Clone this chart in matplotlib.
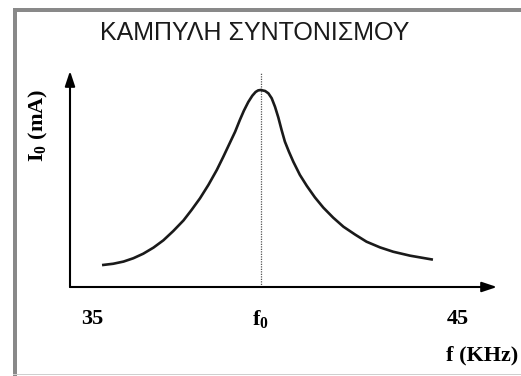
import matplotlib
matplotlib.use("Agg")

import matplotlib.pyplot as plt
import matplotlib.patches as patches

# ===== resonance curve data (f in kHz, I in mA) =====
FREQ = [35.31, 35.58, 35.86, 36.13, 36.40, 36.68, 36.95, 37.22, 37.50, 37.72,
        37.95, 38.18, 38.41, 38.59, 38.77, 38.91, 39.04, 39.15, 39.27, 39.38,
        39.47, 39.54, 39.61, 39.73, 39.82, 39.91, 40.00, 40.09, 40.18, 40.27,
        40.38, 40.50, 40.68, 40.87, 41.09, 41.32, 41.59, 41.87, 42.19, 42.50,
        42.87, 43.23, 43.69, 44.28]
CURRENT = [1.12, 1.18, 1.29, 1.46, 1.69, 2.00, 2.37, 2.84, 3.38, 3.91,
           4.50, 5.18, 5.94, 6.62, 7.33, 7.88, 8.48, 8.95, 9.39, 9.71,
           9.90, 9.98, 10.00, 9.95, 9.83, 9.58, 9.15, 8.61, 7.97, 7.38,
           6.87, 6.36, 5.69, 5.13, 4.55, 4.03, 3.52, 3.06, 2.66, 2.30,
           2.01, 1.79, 1.59, 1.40]

F0 = 39.61
F_TICKS = [35, F0, 45]
F_TICK_LABELS = ["35", r"$\mathrm{f_0}$", "45"]

TITLE = "ΚΑΜΠΥΛΗ ΣΥΝΤΟΝΙΣΜΟΥ"

plt.rcParams["mathtext.fontset"] = "custom"
plt.rcParams["mathtext.rm"] = "Liberation Serif:bold"
plt.rcParams["mathtext.it"] = "Liberation Serif:bold"
plt.rcParams["mathtext.bf"] = "Liberation Serif:bold"

W, H = 521, 376
fig = plt.figure(figsize=(W / 100, H / 100), dpi=100)
fig.patch.set_facecolor("white")

# ===== frame =====
gray = "#898989"
fig.patches.append(patches.Rectangle((13 / W, 0), 4 / W, 1 - 7.5 / H,
                                     transform=fig.transFigure, color=gray, lw=0))
fig.patches.append(patches.Rectangle((13 / W, 1 - 11.5 / H), 1, 4 / H,
                                     transform=fig.transFigure, color=gray, lw=0))
fig.patches.append(patches.Rectangle((13 / W, 1 / H), 1, 1.5 / H,
                                     transform=fig.transFigure, color="#cfcfcf", lw=0))

# ===== plot area =====
x0, x1 = 70, 497
y0, y1 = 287, 71
ax = fig.add_axes([x0 / W, (H - y0) / H, (x1 - x0) / W, (y0 - y1) / H])
ax.set_xlim(35 + (x0 - 92) / 36.6, 35 + (x1 - 92) / 36.6)
ax.set_ylim(0, (y0 - y1) / 19.7)
ax.axis("off")

arrow = dict(arrowstyle="-|>,head_length=0.9,head_width=0.3", color="black",
             lw=1.5, shrinkA=0, shrinkB=0)
ax.annotate("", xy=(1, 0), xytext=(0, 0), xycoords="axes fraction", arrowprops=arrow)
ax.annotate("", xy=(0, 1), xytext=(0, 0), xycoords="axes fraction", arrowprops=arrow)

ax.plot([F0, F0], [0, 10.86], color="#555555", lw=0.9, ls=(0, (1, 1)))
ax.plot(FREQ, CURRENT, color="#1a1a1a", lw=1.9, solid_joinstyle="round")

serif = dict(family="Liberation Serif", weight="bold", size=16)
for f, lab in zip(F_TICKS, F_TICK_LABELS):
    ax.text(f, 1 - (319 - y1) / (y0 - y1), lab, transform=ax.get_xaxis_transform(),
            ha="center", va="center", **serif)

fig.text(518 / W, 1 - 355 / H, "f (KHz)", ha="right", va="center", **serif)
fig.text(38 / W, 1 - 125 / H, r"$\mathrm{I_0}$ (mA)", ha="center", va="center",
         rotation=90, **serif)

fig.text(255 / W, 1 - 33 / H, TITLE, ha="center", va="center",
         family="Liberation Sans", size=18, color="#1a1a1a")

fig.savefig("out.png", dpi=100)
